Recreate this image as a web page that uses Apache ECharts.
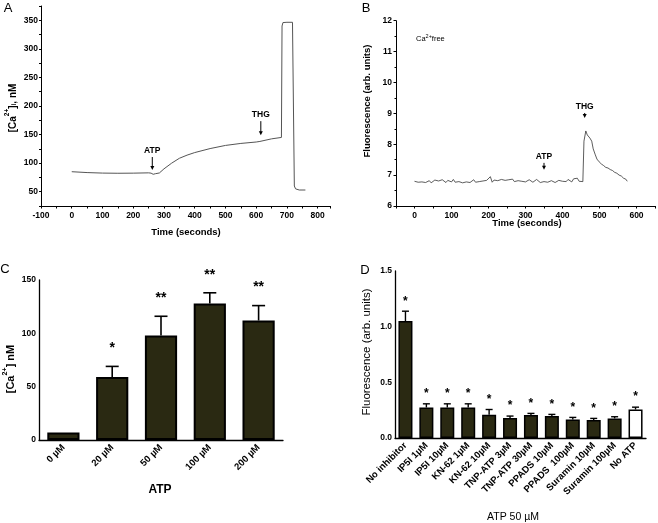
<!DOCTYPE html>
<html><head><meta charset="utf-8">
<script src="https://cdn.jsdelivr.net/npm/echarts@6/dist/echarts.min.js"></script>
<style>html,body{margin:0;padding:0;background:#fff}#c{width:658px;height:523px}</style>
</head><body><div id="c"></div><script>
const FONT = 'Liberation Sans, Arial, sans-serif';

// Panel A: [time s, Ca nM]
const traceA = [[0,85],[50,83.5],[100,82.6],[150,82.3],[200,82.5],[250,83],[258,82.5],[265,80.5],[272,81.5],[285,82.8],[300,90],[325,100],[350,108.5],[375,114],[400,118.5],[450,125.5],[500,131],[550,134.5],[600,137],[612,138],[618,141],[650,142.5],[682,145],[684,340],[687,346],[700,346.5],[718,346.5],[721,345],[724,60],[728,55],[740,53],[760,53]];

// Panel B: baseline sampled every 5 s from 0 to 455 s, then THG response
const baseStepB = 5;
const baselineB = [6.80,6.83,6.77,6.81,6.78,6.84,6.76,6.80,6.82,6.75,
6.79,6.84,6.78,6.81,6.77,6.85,6.79,6.76,6.83,6.80,
6.78,6.86,6.77,6.82,6.79,6.84,6.75,6.81,6.78,6.83,
6.76,6.80,6.85,6.77,6.82,6.79,6.74,6.81,6.78,6.83,
6.80,6.95,6.77,6.84,6.79,6.82,6.76,6.86,6.80,6.83,
6.78,6.85,6.81,6.87,6.79,6.84,6.82,6.88,6.80,6.83,
6.78,6.82,6.85,6.79,6.77,6.83,6.86,6.80,6.76,6.81,
6.79,6.84,6.77,6.74,6.82,6.79,6.76,6.81,6.83,6.78,
6.80,6.84,6.79,6.86,6.81,6.78,6.88,6.82,6.90,6.80,
6.86,6.79];
const responseB = [[457,6.80],[458,8.1],[463,8.43],[467,8.30],[470,8.36],[474,8.2],[479,8.1],[483,7.85],[488,7.68],[493,7.52],[499,7.43],[505,7.36],[511,7.31],[517,7.25],[523,7.23],[529,7.18],[535,7.15],[541,7.09],[547,7.06],[553,7.00],[559,6.97],[565,6.90],[571,6.87],[575,6.80]];

// Panel C
const catsC = ['0 µM','20 µM','50 µM','100 µM','200 µM'];
const meanC = [7, 59, 98, 128, 112];
const errC  = [0, 10, 18, 10, 14];
const sigC  = ['', '*', '**', '**', '**'];

// Panel D
const catsD = ['No inhibitor','IP5I 1µM','IP5I 10µM','KN-62 1µM','KN-62 10µM','TNP-ATP 3µM','TNP-ATP 30µM','PPADS 10µM','PPADS  100µM','Suramin 10µM','Suramin 100µM','No ATP'];
const meanD = [1.05,0.274,0.274,0.274,0.209,0.179,0.206,0.198,0.167,0.161,0.176,0.256];
const errD  = [0.089,0.033,0.033,0.033,0.047,0.018,0.015,0.014,0.018,0.015,0.015,0.021];
const sigD  = ['*','*','*','*','*','*','*','*','*','*','*','*'];
const whiteD = [false,false,false,false,false,false,false,false,false,false,false,true];

// Annotations (data coords)
const annotA = [{label:'ATP', t:262, tip:88, len:13}, {label:'THG', t:615, tip:149, len:14}];
const annotB = [{label:'ATP', t:350, tip:7.17, len:7}, {label:'THG', t:460, tip:8.85, len:5}];

const traceB = baselineB.map((v,i)=>[i*baseStepB, v]).concat(responseB);

const chart = echarts.init(document.getElementById('c'), null, {renderer:'canvas'});
const BAR = '#2a2912';

function axLine(w){ return {show:true, onZero:false, lineStyle:{color:'#000', width:w||1}}; }
function lbl(size, extra){ return Object.assign({color:'#000', fontSize:size, fontWeight:'bold', fontFamily:FONT}, extra||{}); }

function errRender(sig, capHalf, starGap, starSize, lw){
  return function(params, api){
    const i = api.value(0), m = api.value(1), top = api.value(2);
    const p0 = api.coord([i, m]), p1 = api.coord([i, top]);
    const ch = [];
    if (top > m) {
      ch.push({type:'line', shape:{x1:p0[0],y1:p0[1],x2:p1[0],y2:p1[1]}, style:{stroke:'#000', lineWidth:lw}});
      ch.push({type:'line', shape:{x1:p1[0]-capHalf,y1:p1[1],x2:p1[0]+capHalf,y2:p1[1]}, style:{stroke:'#000', lineWidth:lw}});
    }
    const s = sig[params.dataIndex];
    if (s) ch.push({type:'text', style:{text:s, x:p1[0], y:p1[1]-starGap, align:'center', verticalAlign:'middle', fill:'#000', fontSize:starSize, fontWeight:'bold', fontFamily:FONT}});
    return {type:'group', children:ch};
  };
}

const option = {
  animation:false,
  backgroundColor:'#fff',
  grid:[
    {left:41, top:6, width:289, height:200},
    {left:396, top:20.7, width:262, height:185.3},
    {left:39, top:280, width:244, height:160},
    {left:395, top:271, width:251, height:167}
  ],
  xAxis:[
    {type:'value', gridIndex:0, min:-100, max:840, interval:50, axisLine:axLine(), splitLine:{show:false},
     axisTick:{length:2.5, lineStyle:{color:'#000'}},
     axisLabel:lbl(8.5, {margin:5, formatter:v=> (v%100===0 ? String(v) : '')})},
    {type:'value', gridIndex:1, min:-50, max:650, interval:50, axisLine:axLine(), splitLine:{show:false},
     axisTick:{length:2.5, lineStyle:{color:'#000'}},
     axisLabel:lbl(8.5, {margin:5, formatter:v=> (v%100===0 && v>=0 && v<=600 ? String(v) : '')})},
    {type:'category', gridIndex:2, data:catsC, axisLine:axLine(1.3), axisTick:{alignWithLabel:true, length:3, lineStyle:{color:'#000'}},
     axisLabel:lbl(9.5, {rotate:45, margin:6, interval:0})},
    {type:'category', gridIndex:3, data:catsD, axisLine:axLine(1.3), axisTick:{alignWithLabel:true, length:3, lineStyle:{color:'#000'}},
     axisLabel:lbl(9.5, {rotate:45, margin:6, interval:0})}
  ],
  yAxis:[
    {type:'value', gridIndex:0, min:25, max:375, interval:25, axisLine:axLine(), splitLine:{show:false},
     axisTick:{length:2, lineStyle:{color:'#000'}},
     axisLabel:lbl(8.5, {margin:3, formatter:v=> (v%50===0 && v>=50 && v<=350 ? String(v) : '')})},
    {type:'value', gridIndex:1, min:6, max:12, interval:1, axisLine:axLine(), splitLine:{show:false},
     axisTick:{length:2.5, lineStyle:{color:'#000'}}, minorTick:{show:true, splitNumber:2, length:1.5, lineStyle:{color:'#000'}},
     axisLabel:lbl(8.5, {margin:4})},
    {type:'value', gridIndex:2, min:0, max:150, interval:50, axisLine:axLine(1.3), splitLine:{show:false},
     axisTick:{length:3, lineStyle:{color:'#000'}}, axisLabel:lbl(8.5, {margin:3})},
    {type:'value', gridIndex:3, min:0, max:1.5, interval:0.5, axisLine:axLine(1.3), splitLine:{show:false},
     axisTick:{length:3, lineStyle:{color:'#000'}}, axisLabel:lbl(8.5, {margin:3, formatter:v=>v.toFixed(1)})}
  ],
  series:[
    {type:'line', xAxisIndex:0, yAxisIndex:0, data:traceA, showSymbol:false, symbol:'none', lineStyle:{color:'#555', width:1}},
    {type:'line', xAxisIndex:1, yAxisIndex:1, data:traceB, showSymbol:false, symbol:'none', lineStyle:{color:'#333', width:0.8}},
    {type:'bar', xAxisIndex:2, yAxisIndex:2, barWidth:'66%', data:meanC,
     itemStyle:{color:BAR, borderColor:'#000', borderWidth:2}},
    {type:'custom', xAxisIndex:2, yAxisIndex:2, z:5, encode:{x:0, y:[1,2]},
     data:meanC.map((m,i)=>[i, m, m+errC[i]]), renderItem:errRender(sigC, 6.5, 18, 14, 1.6)},
    {type:'bar', xAxisIndex:3, yAxisIndex:3, barWidth:'67%',
     data:meanD.map((m,i)=>({value:m, itemStyle:{color: whiteD[i] ? '#fff' : BAR, borderColor:'#000', borderWidth:1.5}}))},
    {type:'custom', xAxisIndex:3, yAxisIndex:3, z:5, encode:{x:0, y:[1,2]},
     data:meanD.map((m,i)=>[i, m, m+errD[i]]), renderItem:errRender(sigD, 3.5, 10, 12, 1.4)}
  ]
};
chart.setOption(option);

function arrowEls(gridIndex, list, fontSize){
  const els = [];
  list.forEach(a=>{
    const p = chart.convertToPixel({gridIndex:gridIndex}, [a.t, a.tip]);
    const x = p[0], y = p[1];
    els.push({type:'line', shape:{x1:x, y1:y-a.len, x2:x, y2:y-3}, style:{stroke:'#000', lineWidth:1}});
    els.push({type:'polygon', shape:{points:[[x-2,y-4],[x+2,y-4],[x,y]]}, style:{fill:'#000'}});
    els.push({type:'text', x:x, y:y-a.len-6, style:{text:a.label, align:'center', verticalAlign:'middle', fill:'#000', fontSize:fontSize, fontWeight:'bold', fontFamily:FONT}});
  });
  return els;
}

function txt(x, y, text, size, weight, rot, rich){
  const o = {type:'text', x:x, y:y, rotation:rot||0, style:{text:text, align:'center', verticalAlign:'middle', fill:'#000', fontSize:size, fontWeight:weight, fontFamily:FONT}};
  if (rich) o.style.rich = rich;
  return o;
}

const richCa = function(size){
  return {
    a:{fontSize:size, fontWeight:'bold', fontFamily:FONT, fill:'#000', verticalAlign:'bottom', lineHeight:size+4},
    s:{fontSize:size*0.65, fontWeight:'bold', fontFamily:FONT, fill:'#000', verticalAlign:'top', lineHeight:size+4},
    b:{fontSize:size*0.65, fontWeight:'bold', fontFamily:FONT, fill:'#000', verticalAlign:'bottom', lineHeight:size+2}
  };
};

const graphics = []
  .concat(arrowEls(0, annotA, 8.5))
  .concat(arrowEls(1, annotB, 8.5))
  .concat([
    txt(8, 8, 'A', 13, 'normal'),
    txt(366, 8, 'B', 13, 'normal'),
    txt(5, 269, 'C', 13, 'normal'),
    txt(365, 270, 'D', 13, 'normal'),
    txt(186, 232, 'Time (seconds)', 9.5, 'bold'),
    txt(527, 223, 'Time (seconds)', 9.5, 'bold'),
    txt(367, 101, 'Fluorescence (arb. units)', 9.5, 'bold', Math.PI/2),
    txt(160, 490, 'ATP', 12, 'bold'),
    txt(367, 352, 'Fluorescence (arb. units)', 11.5, 'normal', Math.PI/2),
    txt(513, 517, 'ATP 50 µM', 10.5, 'normal'),
    {type:'text', x:11, y:108, rotation:Math.PI/2, style:{text:'{a|[Ca}{s|2+}{a|]}{b|i}{a|, nM}', align:'center', verticalAlign:'middle', rich:richCa(10)}},
    {type:'text', x:9, y:369, rotation:Math.PI/2, style:{text:'{a|[Ca}{s|2+}{a|] nM}', align:'center', verticalAlign:'middle', rich:richCa(11)}},
    {type:'text', x:416, y:38, style:{text:'{n|Ca}{s|2+}{n|free}', align:'left', verticalAlign:'middle', rich:{
      n:{fontSize:7.5, fontFamily:FONT, fill:'#000', verticalAlign:'bottom', lineHeight:10},
      s:{fontSize:5.5, fontFamily:FONT, fill:'#000', verticalAlign:'top', lineHeight:10}}}}
  ]);
chart.setOption({graphic:graphics});
</script></body></html>
